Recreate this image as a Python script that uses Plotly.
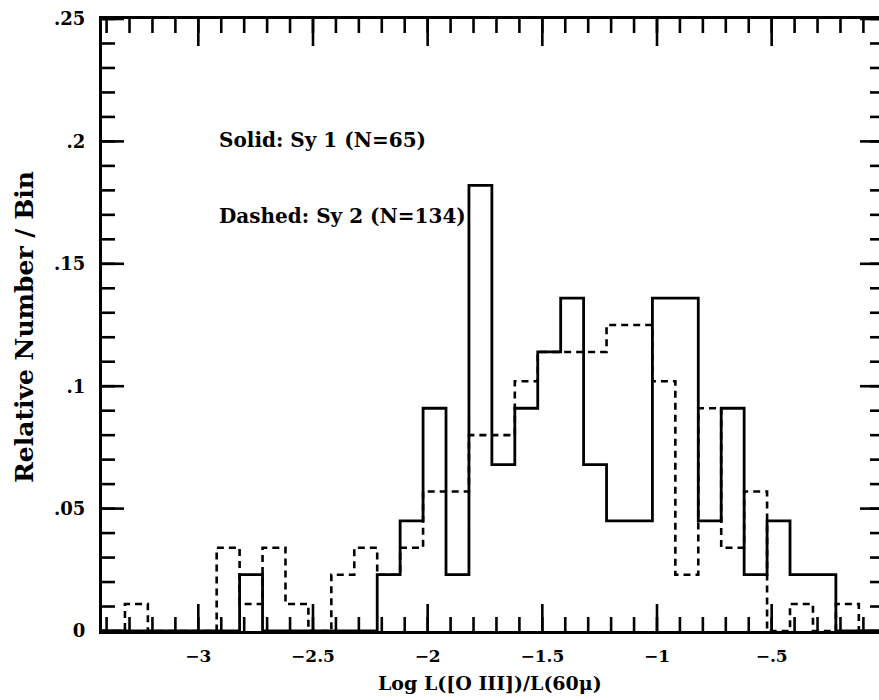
import plotly.graph_objects as go

# Bin edges (Log L([O III])/L(60mu)), 0.1 dex bins
bin_edges = [-3.42, -3.32, -3.22, -3.12, -3.02, -2.92, -2.82, -2.72, -2.62, -2.52,
             -2.42, -2.32, -2.22, -2.12, -2.02, -1.92, -1.82, -1.72, -1.62, -1.52,
             -1.42, -1.32, -1.22, -1.12, -1.02, -0.92, -0.82, -0.72, -0.62, -0.52,
             -0.42, -0.32, -0.22, -0.12, -0.02]

# Seyfert 1 (solid) relative number per bin
sy1_values = [0, 0, 0, 0, 0, 0, 0.023, 0, 0, 0,
              0, 0, 0.023, 0.045, 0.091, 0.023, 0.182, 0.068, 0.091, 0.114,
              0.136, 0.068, 0.045, 0.045, 0.136, 0.136, 0.045, 0.091, 0.023, 0.045,
              0.023, 0.023, 0, 0]

# Seyfert 2 (dashed) relative number per bin
sy2_values = [0, 0.011, 0, 0, 0, 0.034, 0.011, 0.034, 0.011, 0,
              0.023, 0.034, 0.023, 0.034, 0.057, 0.057, 0.080, 0.080, 0.102, 0.114,
              0.114, 0.114, 0.125, 0.125, 0.102, 0.023, 0.091, 0.034, 0.057, 0,
              0.011, 0, 0.011, 0]

x_tick_vals = [-3, -2.5, -2, -1.5, -1, -0.5]
x_tick_text = ["\u22123", "\u22122.5", "\u22122", "\u22121.5", "\u22121", "\u2212.5"]
y_tick_vals = [0, 0.05, 0.1, 0.15, 0.2, 0.25]
y_tick_text = ["0", ".05", ".1", ".15", ".2", ".25"]

# minor tick positions (axis decoration, every 0.1 in x and 0.01 in y)
x_minor_vals = [round(-3.4 + 0.1 * k, 2) for k in range(34)]
y_minor_vals = [round(0.01 * k, 2) for k in range(26)]

X_RANGE = [-3.42, -0.032]
Y_RANGE = [0, 0.25]
FONT = "DejaVu Serif"
PLOT_H_PX = 612  # plot-area height in pixels (700 - 19 - 69)


def step_xy(edges, vals):
    xs = [edges[0]] + list(edges)
    ys = [0] + list(vals) + [0]
    return xs, ys


fig = go.Figure()

sx, sy = step_xy(bin_edges, sy2_values)
fig.add_trace(go.Scatter(x=sx, y=sy, mode="lines", line_shape="hv",
                         line=dict(color="black", width=2.6, dash="7px,5px"),
                         name="Sy 2", hoverinfo="skip"))
sx, sy = step_xy(bin_edges, sy1_values)
fig.add_trace(go.Scatter(x=sx, y=sy, mode="lines", line_shape="hv",
                         line=dict(color="black", width=2.8),
                         name="Sy 1", hoverinfo="skip"))

# bottom tick marks (pointing up into the plot), drawn in data space
per_px = (Y_RANGE[1] - Y_RANGE[0]) / PLOT_H_PX
bx, by = [], []
for v, ln in [(v, 14) for v in x_minor_vals] + [(v, 27) for v in x_tick_vals]:
    bx += [v, v, None]
    by += [0, ln * per_px, None]
fig.add_trace(go.Scatter(x=bx, y=by, mode="lines", line=dict(color="black", width=2.6),
                         hoverinfo="skip", showlegend=False, cliponaxis=False))

# top, left and right tick marks
tick_line = dict(color="black", width=2.6)
for v, ln in [(v, 14) for v in x_minor_vals] + [(v, 27) for v in x_tick_vals]:
    fig.add_shape(type="line", xref="x", yref="paper", x0=v, x1=v,
                  ysizemode="pixel", yanchor=1, y0=0, y1=-ln,
                  line=tick_line, layer="above")
for v, ln_left, ln_right in [(v, 13, 9) for v in y_minor_vals] + [(v, 22, 19) for v in y_tick_vals]:
    fig.add_shape(type="line", xref="paper", yref="y", y0=v, y1=v,
                  xsizemode="pixel", xanchor=0, x0=0, x1=ln_left,
                  line=tick_line, layer="above")
    fig.add_shape(type="line", xref="paper", yref="y", y0=v, y1=v,
                  xsizemode="pixel", xanchor=1, x0=0, x1=-ln_right,
                  line=tick_line, layer="above")

fig.update_layout(
    width=879, height=700,
    margin=dict(l=102, r=0, t=19, b=69),
    paper_bgcolor="white", plot_bgcolor="white",
    showlegend=False,
    font=dict(family=FONT, color="black"),
    xaxis=dict(
        range=X_RANGE, showgrid=False, zeroline=False,
        showline=True, linewidth=3, linecolor="black", mirror=True,
        ticks="", tickmode="array", tickvals=x_tick_vals, ticktext=x_tick_text,
        tickfont=dict(family=FONT, size=17, weight="bold", color="black"),
        ticklabelstandoff=8,
    ),
    yaxis=dict(
        range=Y_RANGE, showgrid=False, zeroline=False,
        showline=True, linewidth=3, linecolor="black", mirror=False,
        ticks="", tickmode="array", tickvals=y_tick_vals, ticktext=y_tick_text,
        tickfont=dict(family=FONT, size=18, weight="bold", color="black"),
        ticklabelstandoff=10,
    ),
    annotations=[
        dict(text="Solid: Sy 1 (N=65)", xref="paper", yref="paper",
             x=(217 - 102) / 777, y=(631 - 140) / 612, xanchor="left", yanchor="middle",
             showarrow=False, font=dict(family=FONT, size=20, weight="bold", color="black")),
        dict(text="Dashed: Sy 2 (N=134)", xref="paper", yref="paper",
             x=(217 - 102) / 777, y=(631 - 216) / 612, xanchor="left", yanchor="middle",
             showarrow=False, font=dict(family=FONT, size=20, weight="bold", color="black")),
        dict(text="Log L([O III])/L(60\u03bc)", xref="paper", yref="paper",
             x=(490 - 102) / 777, y=-(683 - 631) / 612, xanchor="center", yanchor="middle",
             showarrow=False, font=dict(family=FONT, size=19, weight="bold", color="black")),
        dict(text="Relative Number / Bin", xref="paper", yref="paper",
             x=(24 - 102) / 777, y=(631 - 327) / 612, xanchor="center", yanchor="middle",
             textangle=-90,
             showarrow=False, font=dict(family=FONT, size=25, weight="bold", color="black")),
    ],
)

fig.write_html("out.html")
